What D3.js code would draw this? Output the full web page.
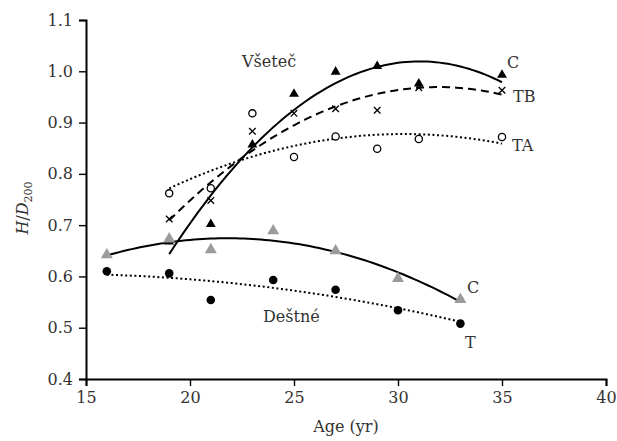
<!DOCTYPE html>
<html>
<head>
<meta charset="utf-8"/>
<script src="https://cdn.jsdelivr.net/npm/d3@7"></script>
<style>
  body { margin: 0; background: #fff; }
  text { font-family: "DejaVu Serif", "Liberation Serif", serif; }
</style>
</head>
<body>
<script>
// ---- data ----
var vsetecAge = [19, 21, 23, 25, 27, 29, 31, 35];
var vsetecC   = [0.668, 0.702, 0.857, 0.956, 0.999, 1.010, 0.976, 0.993];
var vsetecTB  = [0.712, 0.748, 0.883, 0.918, 0.927, 0.924, 0.968, 0.963];
var vsetecTA  = [0.762, 0.772, 0.918, 0.833, 0.873, 0.849, 0.868, 0.872];

var destneAge = [16, 19, 21, 24, 27, 30, 33];
var destneC   = [0.642, 0.673, 0.652, 0.689, 0.650, 0.596, 0.555];
var destneT   = [0.610, 0.606, 0.554, 0.593, 0.574, 0.534, 0.508];

var xTicks = [15, 20, 25, 30, 35, 40];
var yTicks = [0.4, 0.5, 0.6, 0.7, 0.8, 0.9, 1.0, 1.1];

var width = 617, height = 441;
var svg = d3.select("body").append("svg").attr("width", width).attr("height", height);

var x = d3.scaleLinear().domain([15, 40]).range([86, 606]);
var y = d3.scaleLinear().domain([0.4, 1.1]).range([379, 20]);

// quadratic least squares trend line (like a spreadsheet trendline)
function polyFit(xs, ys) {
  var n = xs.length, s = [0,0,0,0,0], t = [0,0,0];
  for (var i = 0; i < n; i++) {
    var p = 1;
    for (var k = 0; k < 5; k++) { s[k] += p; if (k < 3) t[k] += p * ys[i]; p *= xs[i]; }
  }
  var A = [[s[0], s[1], s[2], t[0]], [s[1], s[2], s[3], t[1]], [s[2], s[3], s[4], t[2]]];
  for (var c = 0; c < 3; c++) {
    for (var r = c + 1; r < 3; r++) {
      var f = A[r][c] / A[c][c];
      for (var j = c; j < 4; j++) A[r][j] -= f * A[c][j];
    }
  }
  var b = [0,0,0];
  for (var r2 = 2; r2 >= 0; r2--) {
    var v = A[r2][3];
    for (var j2 = r2 + 1; j2 < 3; j2++) v -= A[r2][j2] * b[j2];
    b[r2] = v / A[r2][r2];
  }
  return function(a) { return b[0] + b[1] * a + b[2] * a * a; };
}

var line = d3.line().x(function(d){ return x(d[0]); }).y(function(d){ return y(d[1]); });

function trend(xs, ys, dash) {
  var f = polyFit(xs, ys);
  var lo = d3.min(xs), hi = d3.max(xs), pts = [];
  for (var a = lo; a <= hi + 1e-9; a += 0.2) pts.push([a, f(a)]);
  svg.append("path").datum(pts).attr("d", line)
    .attr("fill", "none").attr("stroke", "#000").attr("stroke-width", 2)
    .attr("stroke-dasharray", dash);
}

trend(vsetecAge, vsetecTA, "2,2.6");
trend(vsetecAge, vsetecTB, "8,5");
trend(vsetecAge, vsetecC, null);
trend(destneAge, destneT, "2,2.6");
trend(destneAge, destneC, null);

// ---- markers ----
var tri = d3.symbol().type(d3.symbolTriangle);

svg.selectAll(".vc").data(vsetecAge).enter().append("path")
  .attr("d", tri.size(42))
  .attr("transform", function(d, i){ return "translate(" + x(d) + "," + y(vsetecC[i]) + ")"; })
  .attr("fill", "#000");

svg.selectAll(".dc").data(destneAge).enter().append("path")
  .attr("d", tri.size(62))
  .attr("transform", function(d, i){ return "translate(" + x(d) + "," + y(destneC[i]) + ")"; })
  .attr("fill", "#9b9b9b");

svg.selectAll(".tb").data(vsetecAge).enter().append("path")
  .attr("d", d3.symbol().type(d3.symbolX).size(30))
  .attr("transform", function(d, i){ return "translate(" + x(d) + "," + y(vsetecTB[i]) + ")"; })
  .attr("fill", "none").attr("stroke", "#000").attr("stroke-width", 1.3);

svg.selectAll(".ta").data(vsetecAge).enter().append("circle")
  .attr("cx", function(d){ return x(d); })
  .attr("cy", function(d, i){ return y(vsetecTA[i]); })
  .attr("r", 3.6).attr("fill", "#fff").attr("stroke", "#000").attr("stroke-width", 1.3);

svg.selectAll(".dt").data(destneAge).enter().append("circle")
  .attr("cx", function(d){ return x(d); })
  .attr("cy", function(d, i){ return y(destneT[i]); })
  .attr("r", 4.3).attr("fill", "#000");

// ---- axes ----
var xAxis = svg.append("g").attr("transform", "translate(0,379)")
  .call(d3.axisBottom(x).tickValues(xTicks).tickSize(7).tickPadding(6).tickFormat(d3.format("d")));
var yAxis = svg.append("g").attr("transform", "translate(86,0)")
  .call(d3.axisLeft(y).tickValues(yTicks).tickSize(7).tickPadding(6).tickFormat(d3.format(".1f")));

[xAxis, yAxis].forEach(function(g) {
  g.select(".domain").attr("stroke", "#000").attr("stroke-width", 2);
  g.selectAll(".tick line").attr("stroke", "#000").attr("stroke-width", 1.4);
  g.selectAll(".tick text").attr("fill", "#333").style("font-size", "16px")
    .style("font-family", "'DejaVu Serif', serif");
});

// ---- labels ----
function label(txt, px, py, anchor) {
  return svg.append("text").attr("x", px).attr("y", py).attr("text-anchor", anchor || "start")
    .attr("fill", "#333").style("font-size", "16px").text(txt);
}
label("Všeteč", 242, 67);
label("C", 507, 68);
label("TB", 513, 102);
label("TA", 512, 151);
label("Deštné", 263, 322);
label("C", 467, 293);
label("T", 465, 348);
label("Age (yr)", 346, 432, "middle");

var yt = svg.append("text").attr("transform", "translate(28,208) rotate(-90)")
  .attr("text-anchor", "middle").attr("fill", "#333").style("font-size", "16px");
yt.append("tspan").style("font-style", "italic").text("H");
yt.append("tspan").text("/");
yt.append("tspan").style("font-style", "italic").text("D");
yt.append("tspan").attr("dy", 4).style("font-size", "11px").text("200");
</script>
</body>
</html>
